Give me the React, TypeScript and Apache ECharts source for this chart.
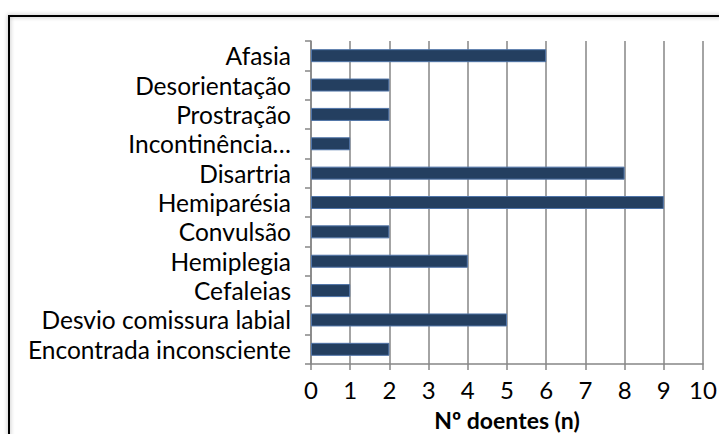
import React, { useEffect, useRef } from "react";
import * as echarts from "echarts";

const categories = [
  "Afasia",
  "Desorientação",
  "Prostração",
  "Incontinência…",
  "Disartria",
  "Hemiparésia",
  "Convulsão",
  "Hemiplegia",
  "Cefaleias",
  "Desvio comissura labial",
  "Encontrada inconsciente",
];
const values = [6, 2, 2, 1, 8, 9, 2, 4, 1, 5, 2];
const xTicks = { min: 0, max: 10, interval: 1 };
const xName = "Nº doentes (n)";

const FONT = "Lato";

export default function App() {
  const ref = useRef<HTMLDivElement>(null);
  useEffect(() => {
    const chart = echarts.init(ref.current!, null, { renderer: "svg" });
    chart.setOption({
      animation: false,
      backgroundColor: "#ffffff",
      grid: { left: 311, right: 16, top: 41, bottom: 70, containLabel: false, outerBoundsMode: "none" },
      graphic: [
        {
          type: "rect",
          shape: { x: 9, y: 16, width: 760, height: 480 },
          style: { fill: "none", stroke: "#000", lineWidth: 2, shadowBlur: 4, shadowColor: "rgba(0,0,0,0.35)" },
          z: 100,
          silent: true,
        },
      ],
      xAxis: {
        type: "value",
        min: xTicks.min,
        max: xTicks.max,
        interval: xTicks.interval,
        name: xName,
        nameLocation: "middle",
        nameGap: 44,
        nameTextStyle: { fontFamily: FONT, fontSize: 23, fontWeight: "bold", color: "#000" },
        axisLine: { show: true, lineStyle: { color: "#868686", width: 1.5 } },
        axisTick: { show: true, length: 6, lineStyle: { color: "#868686", width: 1.5 } },
        axisLabel: { fontFamily: FONT, fontSize: 24, color: "#000", margin: 13, hideOverlap: false },
        splitLine: { show: true, lineStyle: { color: "#868686", width: 1.5 } },
      },
      yAxis: {
        type: "category",
        data: categories,
        inverse: true,
        axisLine: { show: true, lineStyle: { color: "#868686", width: 1.5 } },
        axisTick: { show: true, length: 6, interval: 0, lineStyle: { color: "#868686", width: 1.5 } },
        axisLabel: { fontFamily: FONT, fontSize: 24.5, color: "#000", margin: 20, interval: 0, hideOverlap: false },
        splitLine: { show: false },
      },
      series: [
        {
          type: "bar",
          data: values,
          barWidth: 13,
          itemStyle: { color: "#243f60", borderColor: "#4f74a8", borderWidth: 1 },
        },
      ],
    });
    return () => chart.dispose();
  }, []);
  return (
    <div
      ref={ref}
      style={{ position: "fixed", left: 0, top: 0, width: 719, height: 434 }}
    />
  );
}
